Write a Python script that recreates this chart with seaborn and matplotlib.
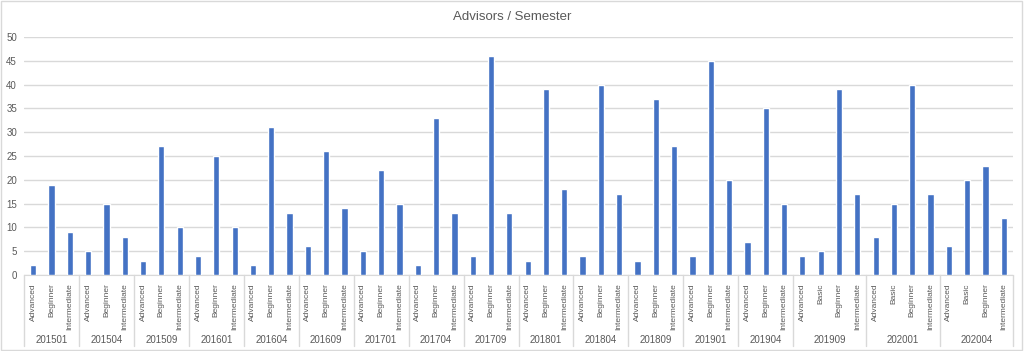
import matplotlib
matplotlib.use("Agg")
import matplotlib.pyplot as plt
import matplotlib.transforms as mtransforms
import pandas as pd
import seaborn as sns

# semesters and their levels / advisor counts
semesters = ["201501", "201504", "201509", "201601", "201604", "201609",
             "201701", "201704", "201709", "201801", "201804", "201809",
             "201901", "201904", "201909", "202001", "202004"]
levels3 = ["Advanced", "Beginner", "Intermediate"]
levels4 = ["Advanced", "Basic", "Beginner", "Intermediate"]
semester_levels = [levels3] * 14 + [levels4] * 3
counts = [
    [2, 19, 9], [5, 15, 8], [3, 27, 10], [4, 25, 10], [2, 31, 13], [6, 26, 14],
    [5, 22, 15], [2, 33, 13], [4, 46, 13], [3, 39, 18], [4, 40, 17], [3, 37, 27],
    [4, 45, 20], [7, 35, 15], [4, 5, 39, 17], [8, 15, 40, 17], [6, 20, 23, 12],
]

rows = []
for sem, levs, vals in zip(semesters, semester_levels, counts):
    for lev, v in zip(levs, vals):
        rows.append({"key": sem + "|" + lev, "semester": sem, "level": lev, "advisors": v})
df = pd.DataFrame(rows)

sns.set_style("white")
plt.rcParams['font.family'] = ['Liberation Sans', 'DejaVu Sans']
text_col = "#595959"
grid_col = "#D9D9D9"

fig = plt.figure(figsize=(10.24, 3.51), dpi=100)
ax = fig.add_axes([24 / 1024, 1 - 275 / 351, 989 / 1024, 238 / 351])

sns.barplot(data=df, x="key", y="advisors", order=list(df["key"]),
            color="#4472C4", width=0.34, saturation=1, ax=ax, zorder=3)

ax.set_ylim(0, 50)
ax.set_xlim(-0.5, len(df) - 0.5)
ax.set_yticks(range(0, 51, 5))
ax.yaxis.grid(True, color=grid_col, lw=1, zorder=0)
ax.set_axisbelow(True)
for s in ["top", "right", "left"]:
    ax.spines[s].set_visible(False)
ax.spines["bottom"].set_color(grid_col)
ax.tick_params(axis="y", length=0, labelsize=7, colors=text_col, pad=5)
ax.tick_params(axis="x", length=0, labelsize=6, colors=text_col, pad=6)
ax.set_xticks(range(len(df)))
ax.set_xticklabels(df["level"], rotation=90)
ax.set_xlabel("")
ax.set_ylabel("")

# group labels and separators
trans = mtransforms.blended_transform_factory(ax.transData, ax.transAxes)
start = 0
bounds = [-0.5]
for sem, levs in zip(semesters, semester_levels):
    n = len(levs)
    center = start + (n - 1) / 2
    ax.text(center, -0.275, sem, transform=trans, ha="center", va="center",
            fontsize=7, color=text_col)
    start += n
    bounds.append(start - 0.5)
for b in bounds:
    ax.plot([b, b], [0, -0.30], transform=trans, color=grid_col, lw=1, clip_on=False)

fig.text(0.5, 1 - 17 / 351, "Advisors / Semester", ha="center", va="center",
         fontsize=9.5, color=text_col)

fig.patches.append(plt.Rectangle((0.001, 0.002), 0.997, 0.995, transform=fig.transFigure,
                                 fill=False, edgecolor="#D9D9D9", lw=1))

fig.savefig("out.png", dpi=100)
